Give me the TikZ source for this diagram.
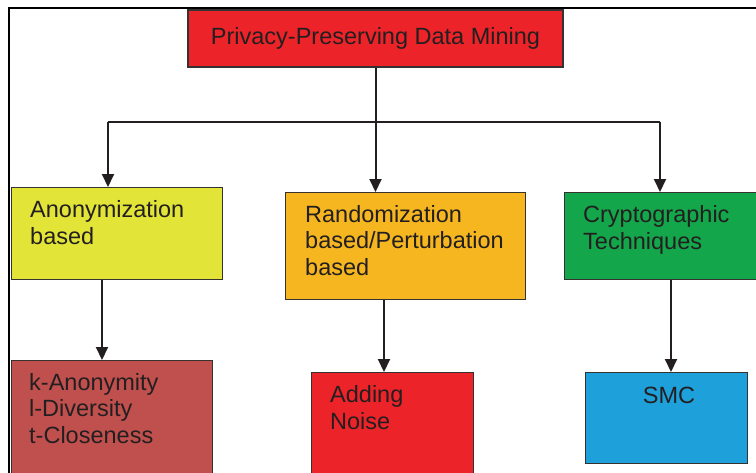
\documentclass[tikz,border=0pt]{standalone}
\usepackage{fontspec}
\setmainfont{Liberation Sans}
\usetikzlibrary{arrows.meta}

\definecolor{ink}{RGB}{35,31,32}
\definecolor{boxline}{RGB}{55,50,50}
\definecolor{topred}{RGB}{236,35,41}
\definecolor{anonyel}{RGB}{226,228,56}
\definecolor{randorg}{RGB}{246,182,32}
\definecolor{cryptgrn}{RGB}{20,166,74}
\definecolor{kanonred}{RGB}{192,80,77}
\definecolor{noisered}{RGB}{236,35,41}
\definecolor{smcblue}{RGB}{30,160,218}

\tikzset{
  box/.style={draw=boxline, line width=1.2pt, anchor=north west, inner sep=0pt},
  lbl/.style={anchor=base west, align=left, inner sep=0pt, text=ink,
    font=\fontsize{23.5}{26.5}\selectfont},
  link/.style={draw=ink, line width=2pt},
  arr/.style={link, -{Triangle[width=12pt,length=13pt]}}
}

\begin{document}
\begin{tikzpicture}[x=1pt, y=-1pt]
  \useasboundingbox (0,0) rectangle (756,472);

  %%frame
  \draw[line width=2pt, black] (9,480) to (9,8) to (760,8);

  %%top
  \node[box, fill=topred, anchor=center, minimum width=375pt, minimum height=57pt,
    text=ink, font=\fontsize{23.5}{26.5}\selectfont] (ppdm) at (375.5,38.5)
    {Privacy-Preserving Data Mining};

  %%L1 (label nodes sit on their last line)
  \node[box, fill=anonyel, minimum width=211pt, minimum height=92pt] (anon) at (11,187) {};
  \node[lbl] (anon-t) at (30,244) {Anonymization\\based};

  \node[box, fill=randorg, minimum width=240pt, minimum height=107pt] (rand) at (285,192) {};
  \node[lbl] (rand-t) at (305,275) {Randomization\\based/Perturbation\\based};

  \node[box, fill=cryptgrn, minimum width=200pt, minimum height=87pt] (crypt) at (564,192) {};
  \node[lbl] (crypt-t) at (583,249) {Cryptographic\\Techniques};

  %%L2
  \node[box, fill=kanonred, minimum width=201pt, minimum height=130pt] (kanon) at (11,360) {};
  \node[lbl] (kanon-t) at (29,443) {k-Anonymity\\l-Diversity\\t-Closeness};

  \node[box, fill=noisered, minimum width=162pt, minimum height=120pt] (noise) at (311,372) {};
  \node[lbl] (noise-t) at (330,429) {Adding\\Noise};

  \node[box, fill=smcblue, minimum width=162pt, minimum height=91pt] (smc) at (585,372) {};
  \node[lbl, anchor=base] (smc-t) at (669,403) {SMC};

  %%branches
  \coordinate (hl) at (108,122);
  \coordinate (hr) at (660,122);
  \draw[link] (hl) to (hr);
  \draw[arr] (ppdm.south) to (ppdm.south |- rand.north);
  \draw[arr] (hl) to (hl |- anon.north);
  \draw[arr] (hr) to (hr |- crypt.north);

  %%leaves
  \coordinate (a1) at (102,0);
  \coordinate (r1) at (384,0);
  \coordinate (c1) at (671,0);
  \draw[arr] (a1 |- anon.south) to (a1 |- kanon.north);
  \draw[arr] (r1 |- rand.south) to (r1 |- noise.north);
  \draw[arr] (c1 |- crypt.south) to (c1 |- smc.north);
\end{tikzpicture}
\end{document}
